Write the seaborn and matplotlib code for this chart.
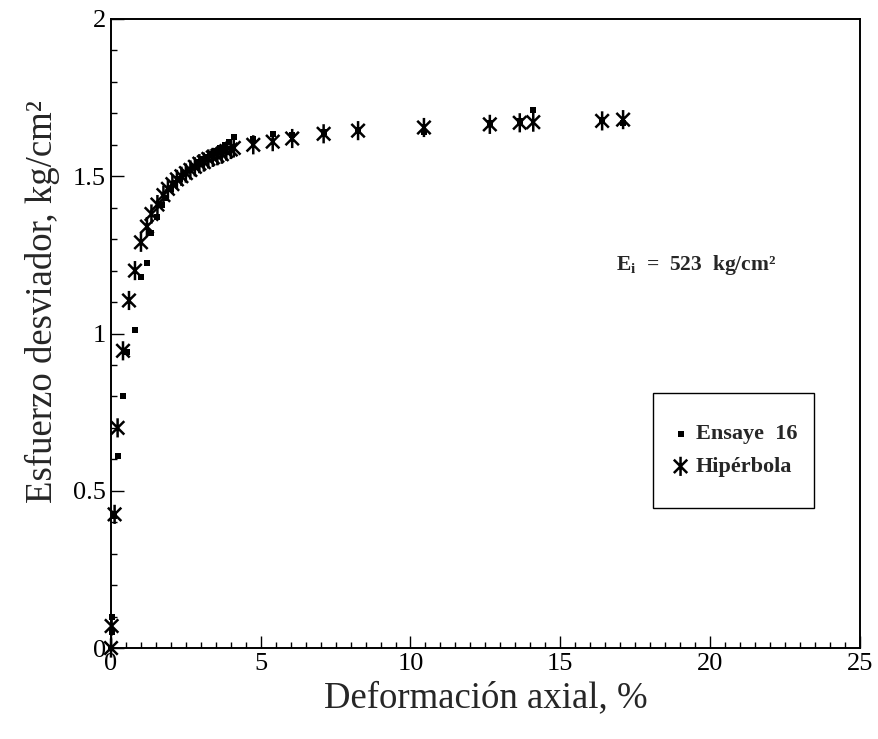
import matplotlib
matplotlib.use("Agg")
import matplotlib.pyplot as plt
import seaborn as sns
import pandas as pd
from matplotlib.path import Path
from matplotlib.patches import Rectangle
from matplotlib.ticker import MultipleLocator, FuncFormatter

# Ensaye 16 (measured points)
ens_x = [0.0, 0.02, 0.03, 0.1, 0.22, 0.4, 0.55, 0.8, 1.0, 1.2, 1.35, 1.55, 1.7, 1.85,
         2.0, 2.15, 2.3, 2.45, 2.6, 2.75, 2.9, 3.05, 3.2, 3.35, 3.5, 3.65, 3.8, 3.95,
         4.1, 4.75, 5.4, 6.05, 7.1, 8.25, 10.45, 12.65, 13.65, 14.1, 16.4, 17.1]
ens_y = [0.0, 0.05, 0.10, 0.42, 0.61, 0.80, 0.94, 1.01, 1.18, 1.225, 1.32, 1.37, 1.41, 1.43,
         1.46, 1.48, 1.49, 1.51, 1.52, 1.53, 1.545, 1.555, 1.56, 1.57, 1.58, 1.59, 1.60, 1.61,
         1.625, 1.62, 1.635, 1.63, 1.64, 1.647, 1.64, 1.668, 1.675, 1.71, 1.68, 1.67]

# Hiperbola (fitted points)
hip_x = [0.0, 0.02, 0.12, 0.22, 0.40, 0.6, 0.8, 1.0, 1.2, 1.35, 1.55, 1.75, 1.9, 2.05,
         2.2, 2.35, 2.5, 2.65, 2.8, 2.95, 3.1, 3.25, 3.4, 3.55, 3.7, 3.85, 4.0, 4.1,
         4.75, 5.4, 6.05, 7.1, 8.25, 10.45, 12.65, 13.65, 14.1, 16.4, 17.1]
hip_y = [0.0, 0.07, 0.425, 0.70, 0.945, 1.105, 1.20, 1.29, 1.34, 1.38, 1.41, 1.44, 1.46, 1.475,
         1.49, 1.50, 1.51, 1.52, 1.53, 1.54, 1.545, 1.555, 1.56, 1.565, 1.57, 1.58, 1.585, 1.59,
         1.60, 1.61, 1.62, 1.635, 1.645, 1.655, 1.665, 1.67, 1.672, 1.676, 1.68]

ens = pd.DataFrame({"x": ens_x, "y": ens_y})
hip = pd.DataFrame({"x": hip_x, "y": hip_y})

# asterisk: X plus a vertical bar
star = Path([(-0.7, -0.7), (0.7, 0.7), (-0.7, 0.7), (0.7, -0.7), (0, -1), (0, 1)],
            [Path.MOVETO, Path.LINETO, Path.MOVETO, Path.LINETO, Path.MOVETO, Path.LINETO])

sns.set_style("ticks")
plt.rcParams["font.family"] = ["Liberation Serif", "DejaVu Serif"]
plt.rcParams["mathtext.fontset"] = "custom"
plt.rcParams["mathtext.rm"] = "Liberation Serif"
plt.rcParams["mathtext.bf"] = "Liberation Serif:bold"

fig = plt.figure(figsize=(8.79, 7.39), dpi=100)
ax = fig.add_axes([0.1263, 0.1231, 0.8517, 0.8512])

sns.scatterplot(data=ens, x="x", y="y", ax=ax, marker="s", s=22, color="black",
                edgecolor="black", linewidth=0, label="Ensaye  16", zorder=3, clip_on=False)
sns.scatterplot(data=hip, x="x", y="y", ax=ax, marker=star, s=190, facecolor="none",
                edgecolor="black", linewidth=1.8, label="Hipérbola", zorder=4, clip_on=False)

ax.set_xlim(0, 25)
ax.set_ylim(0, 2)
ax.xaxis.set_major_locator(MultipleLocator(5))
ax.xaxis.set_minor_locator(MultipleLocator(0.5))
ax.yaxis.set_major_locator(MultipleLocator(0.5))
ax.yaxis.set_minor_locator(MultipleLocator(0.1))
ax.xaxis.set_major_formatter(FuncFormatter(lambda v, p: f"{v:g}"))
ax.yaxis.set_major_formatter(FuncFormatter(lambda v, p: f"{v:g}"))
ax.tick_params(which="both", direction="in", top=False, right=False, colors="black",
               labelsize=19, width=1)
ax.tick_params(which="major", length=9)
ax.tick_params(which="minor", length=4.5)
for sp in ax.spines.values():
    sp.set_linewidth(1.4)
    sp.set_color("black")

ax.set_xlabel("Deformación axial, %", fontsize=26.5)
ax.set_ylabel("Esfuerzo desviador, kg/cm²", fontsize=26.5)
ax.yaxis.set_label_coords(-0.068, 0.55)

ax.text(19.55, 1.218, r"E$_\mathbf{i}$  =  523  kg/cm²", fontsize=15.5, fontweight="bold",
        ha="center", va="center")

# legend box drawn separately so the paddings can follow the reference
ax.add_patch(Rectangle((0.724, 0.223), 0.215, 0.182, transform=ax.transAxes,
                       facecolor="white", edgecolor="black", linewidth=1.0, zorder=5))
leg = ax.legend(loc="center", bbox_to_anchor=(0.8315, 0.314), frameon=False,
                prop={"size": 16, "weight": "bold"}, handletextpad=0.2, handlelength=1.0,
                labelspacing=0.55, borderpad=0, borderaxespad=0)
leg.set_zorder(6)

fig.savefig("out.png", dpi=100)
